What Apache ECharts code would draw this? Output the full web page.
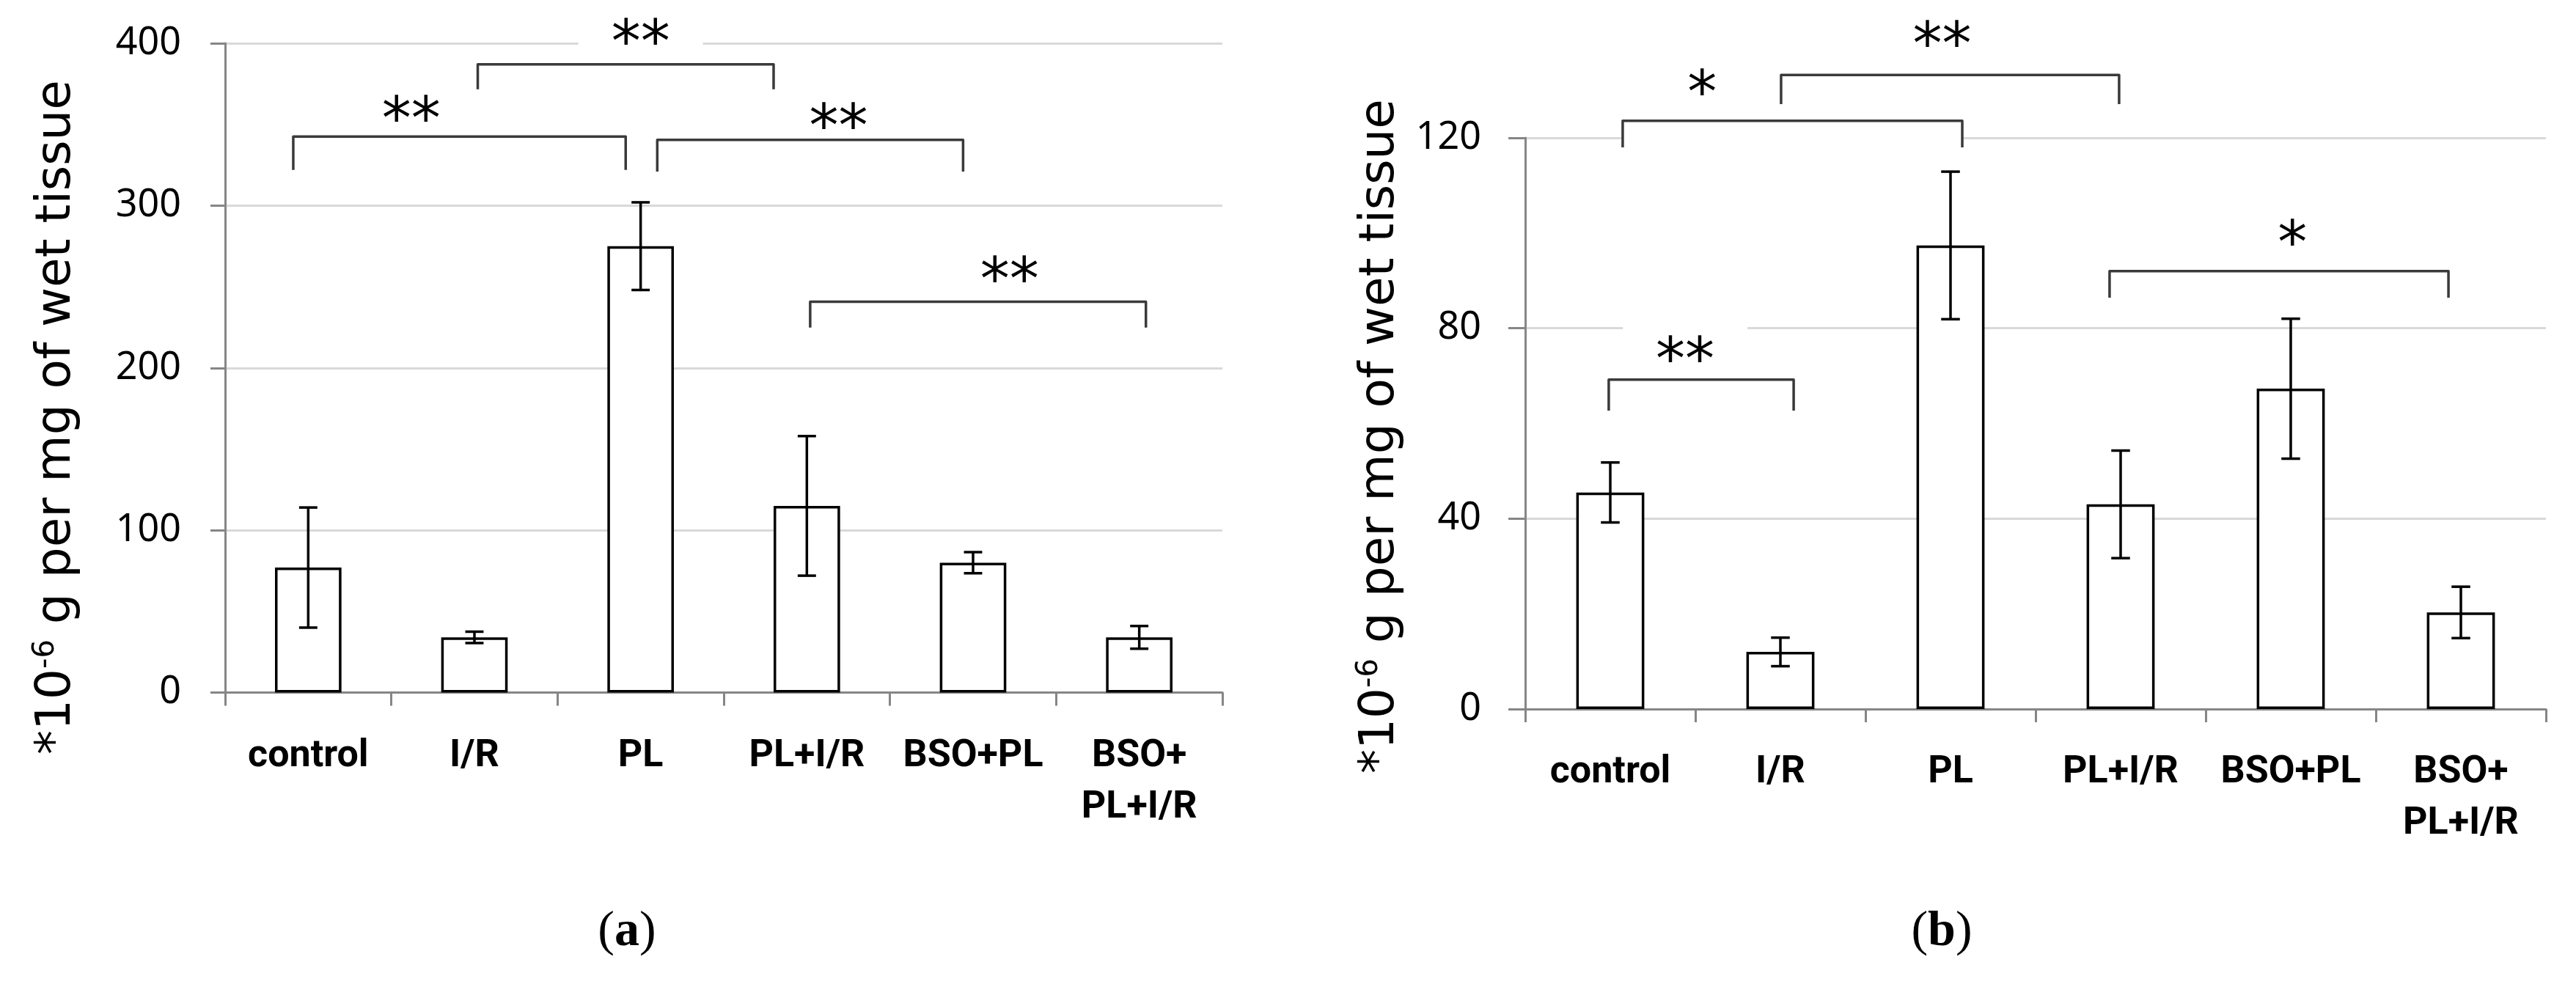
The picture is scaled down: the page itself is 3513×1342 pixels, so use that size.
<!DOCTYPE html>
<html><head><meta charset="utf-8">
<script src="https://cdn.jsdelivr.net/npm/echarts@6/dist/echarts.min.js"></script>
<style>html,body{margin:0;padding:0;background:#fff}#c{width:3513px;height:1342px}</style>
</head><body><div id="c"></div>
<script>
// ---- data ----
const categories = ['control', 'I/R', 'PL', 'PL+I/R', 'BSO+PL', 'BSO+\nPL+I/R'];
const meanA = [77, 34, 275, 115, 80, 34];
const errA  = [37, 3.5, 27, 43, 6.5, 7];
const meanB = [45.5, 12, 97.4, 43, 67.3, 20.3];
const errB  = [6.3, 3, 15.5, 11.3, 14.7, 5.4];
const yTicksA = [0, 100, 200, 300, 400];
const yTicksB = [0, 40, 80, 120];
// significance brackets (category positions relative to first category, values in axis units)
const bracketsA = [
  {from: -0.09, to: 1.91, level: 342.5, leg: 322,   mark: '**', markAt: 0.62, markY: 359},
  {from: 1.02,  to: 2.80, level: 387,   leg: 371.6, mark: '**', markAt: 2.00, markY: 406},
  {from: 2.10,  to: 3.94, level: 340.5, leg: 321,   mark: '**', markAt: 3.19, markY: 354.5},
  {from: 3.02,  to: 5.04, level: 240.8, leg: 224.8, mark: '**', markAt: 4.22, markY: 260}
];
const bracketsB = [
  {from: 0.073,  to: 2.069, level: 123.6, leg: 118,   mark: '*',  markAt: 0.54, markY: 131.3},
  {from: 1.004,  to: 2.991, level: 133.2, leg: 127.1, mark: '**', markAt: 1.95, markY: 141.6},
  {from: -0.009, to: 1.078, level: 69.2,  leg: 62.7,  mark: '**', markAt: 0.44, markY: 75.3},
  {from: 2.935,  to: 4.927, level: 92,    leg: 86.4,  mark: '*',  markAt: 4.01, markY: 99.8}
];

// ---- rendering ----
const axisGray = '#868686';
const gridGray = '#d9d9d9';

function errorRender(params, api) {
  const i = api.value(0), m = api.value(1), e = api.value(2);
  const top = api.coord([i, m + e]), bot = api.coord([i, m - e]);
  const hw = api.size([1, 0])[0] * 0.055;
  const st = {stroke: '#000', lineWidth: 3.5, fill: null};
  return {type: 'group', children: [
    {type: 'line', shape: {x1: top[0], y1: top[1], x2: bot[0], y2: bot[1]}, style: st},
    {type: 'line', shape: {x1: top[0] - hw, y1: top[1], x2: top[0] + hw, y2: top[1]}, style: st},
    {type: 'line', shape: {x1: bot[0] - hw, y1: bot[1], x2: bot[0] + hw, y2: bot[1]}, style: st}
  ]};
}

function bracketRender(list) {
  return function (params, api) {
    const b = list[params.dataIndex];
    const cw = api.size([1, 0])[0];
    const x0 = api.coord([0, 0])[0];
    const x1 = x0 + b.from * cw, x2 = x0 + b.to * cw;
    const yL = api.coord([0, b.level])[1], yE = api.coord([0, b.leg])[1];
    const xm = x0 + b.markAt * cw, ym = api.coord([0, b.markY])[1];
    const bw = b.mark.length > 1 ? 170 : 100;
    return {type: 'group', children: [
      {type: 'rect', shape: {x: x1, y: yL, width: x2 - x1, height: yE - yL}, style: {fill: '#fff'}},
      {type: 'polyline', shape: {points: [[x1, yE], [x1, yL], [x2, yL], [x2, yE]]},
        style: {stroke: '#3a3a3a', lineWidth: 3.5, fill: null, lineJoin: 'round'}},
      {type: 'rect', shape: {x: xm - bw / 2, y: ym - 45, width: bw, height: 70}, style: {fill: '#fff'}},
      {type: 'text', style: {text: b.mark, x: xm, y: ym + 18, align: 'center', verticalAlign: 'middle',
        fontSize: 80, fontFamily: 'DejaVu Sans', fill: '#000'}}
    ]};
  };
}

function xAxisOpt(gridIndex) {
  return {
    type: 'category', gridIndex, data: categories,
    axisLine: {show: true, lineStyle: {color: axisGray, width: 3}},
    axisTick: {show: true, length: 18, lineStyle: {color: axisGray, width: 3}},
    axisLabel: {interval: 0, color: '#000', fontFamily: 'Roboto', fontWeight: 'bold',
      fontSize: 52, lineHeight: 70, margin: 52},
    splitLine: {show: false}
  };
}
function yAxisOpt(gridIndex, ticks, len) {
  return {
    type: 'value', gridIndex, min: ticks[0], max: ticks[ticks.length - 1], interval: ticks[1] - ticks[0],
    axisLine: {show: true, lineStyle: {color: axisGray, width: 3}},
    axisTick: {show: true, length: len, lineStyle: {color: axisGray, width: 3}},
    axisLabel: {color: '#000', fontFamily: 'Noto Sans', fontSize: 52, margin: 60},
    splitLine: {show: true, lineStyle: {color: gridGray, width: 3}}
  };
}

const titleRich = {
  n: {fontSize: 66, fontFamily: 'DejaVu Sans', lineHeight: 70, fill: '#000'},
  s: {fontSize: 40, fontFamily: 'DejaVu Sans', lineHeight: 40, verticalAlign: 'top', fill: '#000'}
};
const titleText = '{n|*10}{s|-6}{n| g per mg of wet tissue}';
const capRich = {
  p: {fontSize: 68, fontFamily: 'Liberation Serif', fill: '#000'},
  b: {fontSize: 68, fontFamily: 'Liberation Serif', fontWeight: 'bold', fill: '#000'}
};

const chart = echarts.init(document.getElementById('c'), null, {renderer: 'canvas', width: 3513, height: 1342});
chart.setOption({
  animation: false,
  backgroundColor: '#fff',
  grid: [
    {left: 307, top: 59, width: 1360, height: 885.5, outerBoundsMode: 'none'},
    {left: 2080, top: 188, width: 1392, height: 779, outerBoundsMode: 'none'}
  ],
  xAxis: [xAxisOpt(0), xAxisOpt(1)],
  yAxis: [yAxisOpt(0, yTicksA, 20), yAxisOpt(1, yTicksB, 23)],
  series: [
    {type: 'bar', xAxisIndex: 0, yAxisIndex: 0, data: meanA, barWidth: '40%', z: 2,
      itemStyle: {color: '#fff', borderColor: '#000', borderWidth: 3.5}},
    {type: 'bar', xAxisIndex: 1, yAxisIndex: 1, data: meanB, barWidth: '40%', z: 2,
      itemStyle: {color: '#fff', borderColor: '#000', borderWidth: 3.5}},
    {type: 'custom', xAxisIndex: 0, yAxisIndex: 0, z: 3, renderItem: errorRender,
      data: meanA.map((m, i) => [i, m, errA[i]])},
    {type: 'custom', xAxisIndex: 1, yAxisIndex: 1, z: 3, renderItem: errorRender,
      data: meanB.map((m, i) => [i, m, errB[i]])},
    {type: 'custom', xAxisIndex: 0, yAxisIndex: 0, z: 4, renderItem: bracketRender(bracketsA),
      data: bracketsA.map(b => [0, b.leg])},
    {type: 'custom', xAxisIndex: 1, yAxisIndex: 1, z: 4, renderItem: bracketRender(bracketsB),
      data: bracketsB.map(b => [0, b.leg])}
  ],
  graphic: [
    {type: 'text', x: 78, y: 569, rotation: Math.PI / 2,
      style: {text: titleText, rich: titleRich, align: 'center', verticalAlign: 'middle'}},
    {type: 'text', x: 1883, y: 595, rotation: Math.PI / 2,
      style: {text: titleText, rich: titleRich, align: 'center', verticalAlign: 'middle'}},
    {type: 'text', x: 855, y: 1271,
      style: {text: '{p|(}{b|a}{p|)}', rich: capRich, align: 'center', verticalAlign: 'middle'}},
    {type: 'text', x: 2648, y: 1271,
      style: {text: '{p|(}{b|b}{p|)}', rich: capRich, align: 'center', verticalAlign: 'middle'}}
  ]
});
</script></body></html>
